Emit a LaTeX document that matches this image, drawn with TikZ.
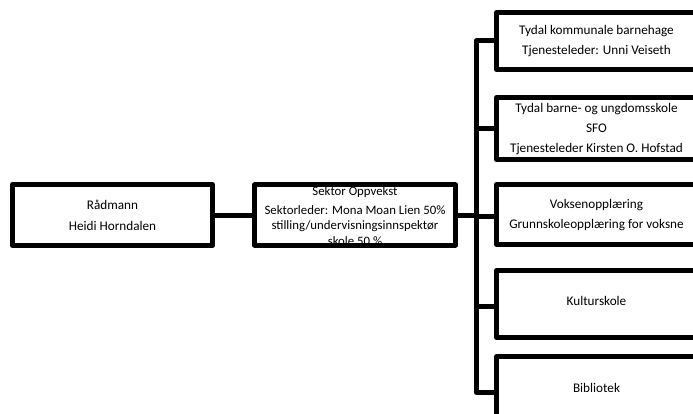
\documentclass[tikz,border=0pt]{standalone}
\usepackage{fontspec}
\setmainfont{Carlito}
\begin{document}
\begin{tikzpicture}[x=1pt,y=-1pt,
  box/.style={draw, line width=5pt, line join=round, inner sep=0pt, minimum width=200pt},
  lbl/.style={align=center, inner sep=0pt, font=\fontsize{13.2}{20}\selectfont},
  conn/.style={draw, line width=5pt, line join=round}]
\useasboundingbox (0,0) rectangle (693,414);
% Radmann
\node[box, minimum height=61pt] (radmann) at (112.5,215) {};
\node[lbl, font=\fontsize{13.2}{21}\selectfont] (radmanntxt) at (112.5,215.5) {Rådmann\\Heidi Horndalen};
% Sektor
\node[box, minimum width=201pt, minimum height=60pt] (sektor) at (355,215) {};
\begin{scope}
  \clip (sektor.south west) rectangle (sektor.north east);
  \node[lbl, font=\fontsize{12.8}{15.5}\selectfont] (sektortxt) at (355,216)
    {Sektor Oppvekst\\[3pt]Sektorleder: Mona Moan Lien 50\%\\stilling/undervisningsinnspektør\\skole 50 \%};
\end{scope}
% right boxes
\node[box, minimum height=57pt] (b1) at (596.5,41) {};
\node[lbl] (b1txt) at (596.5,41.5) {Tydal kommunale barnehage\\Tjenesteleder: Unni Veiseth};
\node[box, minimum height=62pt] (b2) at (596.5,128.5) {};
\node[lbl] (b2txt) at (596.5,129.3) {Tydal barne- og ungdomsskole\\SFO\\Tjenesteleder Kirsten O. Hofstad};
\node[box, minimum height=60pt] (b3) at (596.5,214.5) {};
\node[lbl] (b3txt) at (596.5,215.3) {Voksenopplæring\\Grunnskoleopplæring for voksne};
\node[box, minimum height=67pt] (b4) at (596.5,304) {};
\node[lbl] (b4txt) at (596.5,301) {Kulturskole};
\node[box, minimum height=67pt] (b5) at (596.5,390) {};
\node[lbl] (b5txt) at (596.5,388) {Bibliotek};
% connectors
\coordinate (bar) at (476,41);
\draw[conn] (radmann.east) -- (sektor.west);
\draw[conn] (sektor.east) -- (sektor.east -| bar);
\draw[conn] (b1.west) -- (b1.west -| bar) -- ([yshift=-2pt]b5.west -| bar) -- ([yshift=-2pt]b5.west);
\draw[conn] (b2.west -| bar) -- (b2.west);
\draw[conn] ([yshift=-2pt]b3.west -| bar) -- ([yshift=-2pt]b3.west);
\draw[conn] ([yshift=-2pt]b4.west -| bar) -- ([yshift=-2pt]b4.west);
\end{tikzpicture}
\end{document}
